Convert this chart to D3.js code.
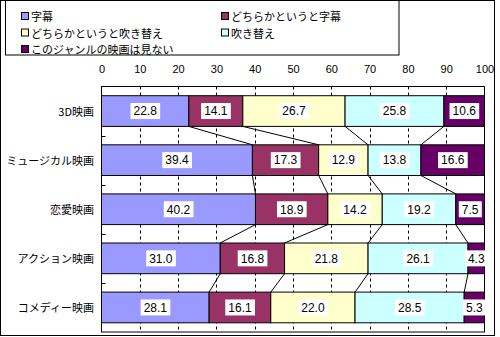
<!DOCTYPE html>
<html>
<head>
<meta charset="utf-8">
<script src="https://cdn.jsdelivr.net/npm/d3@7"></script>
<style>
  html, body { margin: 0; padding: 0; background: #fff; }
  svg { display: block; }
  .cjk { font-family: "Noto Sans CJK JP", sans-serif; font-size: 11px; fill: #000; }
  .num { font-family: "Liberation Sans Narrow", "Liberation Sans", Arial, sans-serif; fill: #000; }
</style>
</head>
<body>
<svg id="chart" width="500" height="337"></svg>
<script>
// Genres (top to bottom) and the share of each viewing preference (%)
const categories = ["3D映画", "ミュージカル映画", "恋愛映画", "アクション映画", "コメディー映画"];
const seriesNames = ["字幕", "どちらかというと字幕", "どちらかというと吹き替え", "吹き替え", "このジャンルの映画は見ない"];
const subtitles      = [22.8, 39.4, 40.2, 31.0, 28.1];
const leanSubtitles  = [14.1, 17.3, 18.9, 16.8, 16.1];
const leanDubbed     = [26.7, 12.9, 14.2, 21.8, 22.0];
const dubbed         = [25.8, 13.8, 19.2, 26.1, 28.5];
const notWatched     = [10.6, 16.6, 7.5, 4.3, 5.3];
const tickValues = [0, 10, 20, 30, 40, 50, 60, 70, 80, 90, 100];

const seriesValues = [subtitles, leanSubtitles, leanDubbed, dubbed, notWatched];
const colors = ["#9999FF", "#993366", "#FFFFCC", "#CCFFFF", "#660066"];

const svg = d3.select("#chart");

const plot = { left: 101.5, right: 484.5, top: 86.5, bottom: 332 };

const x = d3.scaleLinear().domain([0, 100]).range([plot.left, plot.right]);
const y = d3.scaleBand().domain(categories)
  .range([plot.top, plot.bottom])
  .paddingInner(0.375).paddingOuter(0.1875);

// Build stacked rows
const rows = categories.map((c, i) => {
  const vals = seriesValues.map(s => s[i]);
  let acc = 0;
  const segs = vals.map((v, k) => {
    const s = { cat: c, key: k, v, x0: acc, x1: acc + v };
    acc += v;
    return s;
  });
  return { cat: c, segs };
});

// Outer chart frame
svg.append("rect")
  .attr("x", 0.5).attr("y", 0.5).attr("width", 494).attr("height", 335)
  .attr("fill", "#fff").attr("stroke", "#000");

// Plot area
svg.append("rect")
  .attr("x", plot.left).attr("y", plot.top)
  .attr("width", plot.right - plot.left).attr("height", plot.bottom - plot.top)
  .attr("fill", "#fff");

// Dashed vertical gridlines
svg.append("g").selectAll("line")
  .data(tickValues.filter(t => t > 0 && t < 100))
  .join("line")
  .attr("x1", d => Math.round(x(d)) + 0.5).attr("x2", d => Math.round(x(d)) + 0.5)
  .attr("y1", plot.top).attr("y2", plot.bottom)
  .attr("stroke", "#000").attr("stroke-width", 1)
  .attr("stroke-dasharray", "3,3");

// Top axis labels
const axis = d3.axisTop(x).tickValues(tickValues).tickSize(0).tickPadding(0).tickFormat(d3.format("d"));
const axisG = svg.append("g").attr("transform", `translate(0, 73)`).call(axis);
axisG.select(".domain").remove();
axisG.selectAll("text")
  .attr("class", "num")
  .attr("y", 0).attr("dy", 0)
  .style("font-size", "11px")
  .attr("font-family", null).attr("fill", "#000");
axisG.attr("font-family", null).attr("font-size", null);

// Series lines connecting segment boundaries of neighbouring bars
const connectors = [];
for (let i = 0; i < rows.length - 1; i++) {
  for (let k = 0; k < 4; k++) {
    connectors.push({
      xa: rows[i].segs[k].x1, ya: y(rows[i].cat) + y.bandwidth(),
      xb: rows[i + 1].segs[k].x1, yb: y(rows[i + 1].cat)
    });
  }
}
svg.append("g").selectAll("line")
  .data(connectors)
  .join("line")
  .attr("x1", d => x(d.xa)).attr("y1", d => d.ya)
  .attr("x2", d => x(d.xb)).attr("y2", d => d.yb)
  .attr("stroke", "#000").attr("stroke-width", 1);

// Bars
const barG = svg.append("g");
rows.forEach(r => {
  barG.selectAll(null)
    .data(r.segs)
    .join("rect")
    .attr("x", d => x(d.x0))
    .attr("y", y(r.cat))
    .attr("width", d => x(d.x1) - x(d.x0))
    .attr("height", y.bandwidth())
    .attr("fill", d => colors[d.key])
    .attr("stroke", "#000").attr("stroke-width", 1);
});

// Plot border
svg.append("rect")
  .attr("x", plot.left).attr("y", plot.top)
  .attr("width", plot.right - plot.left).attr("height", plot.bottom - plot.top)
  .attr("fill", "none").attr("stroke", "#000");

// Category axis ticks between bands (pointing inward)
const bounds = categories.slice(1).map(c => y(c) - y.step() * y.paddingInner() / 2);
svg.append("g").selectAll("line")
  .data(bounds)
  .join("line")
  .attr("x1", plot.left).attr("x2", plot.left + 4)
  .attr("y1", d => Math.round(d) + 0.5).attr("y2", d => Math.round(d) + 0.5)
  .attr("stroke", "#000");

// Category labels
svg.append("g").selectAll("text")
  .data(categories)
  .join("text")
  .attr("class", "cjk")
  .attr("x", 94)
  .attr("y", d => y(d) + y.bandwidth() / 2)
  .attr("text-anchor", "end")
  .attr("dominant-baseline", "central")
  .text(d => d);

// Value labels in white boxes
const labelG = svg.append("g");
rows.forEach(r => {
  const g = labelG.selectAll(null)
    .data(r.segs)
    .join("g")
    .attr("transform", d => `translate(${(x(d.x0) + x(d.x1)) / 2}, ${y(r.cat) + y.bandwidth() / 2})`);
  const t = g.append("text")
    .attr("class", "num")
    .style("font-size", "12px")
    .attr("text-anchor", "middle")
    .attr("dy", "0.36em")
    .text(d => d.v.toFixed(1));
  t.each(function() {
    const bb = this.getBBox();
    d3.select(this.parentNode).insert("rect", "text")
      .attr("x", bb.x - 3).attr("y", -8)
      .attr("width", bb.width + 6).attr("height", 16)
      .attr("fill", "#fff");
  });
});

// Legend
svg.append("rect")
  .attr("x", 5.5).attr("y", 0.5).attr("width", 393.5).attr("height", 54.5)
  .attr("fill", "#fff").attr("stroke", "#000");

const legendPos = [
  { x: 21, y: 16 }, { x: 221, y: 16 },
  { x: 21, y: 32.5 }, { x: 221, y: 32.5 },
  { x: 21, y: 49 }
];
const leg = svg.append("g").selectAll("g")
  .data(seriesNames)
  .join("g")
  .attr("transform", (d, i) => `translate(${legendPos[i].x}, ${legendPos[i].y})`);
leg.append("rect")
  .attr("x", 0.5).attr("y", -3.5).attr("width", 7).attr("height", 7)
  .attr("fill", (d, i) => colors[i]).attr("stroke", "#000");
leg.append("text")
  .attr("class", "cjk")
  .attr("x", 10)
  .attr("y", 0)
  .attr("dominant-baseline", "central")
  .text(d => d);
</script>
</body>
</html>
